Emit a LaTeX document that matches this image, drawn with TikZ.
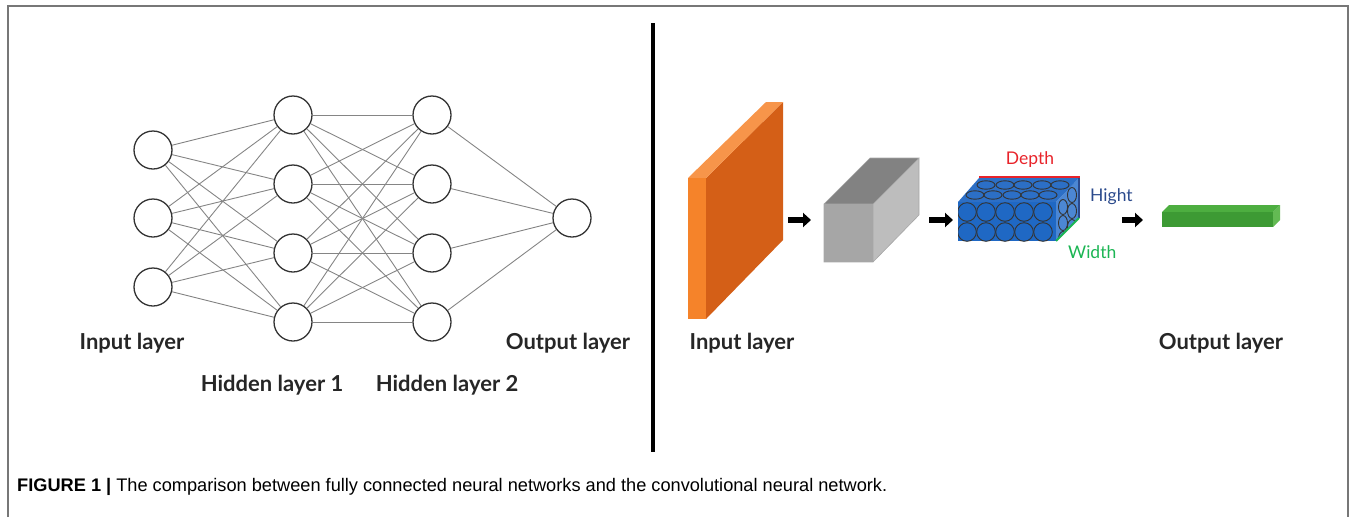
\documentclass[tikz,border=0pt]{standalone}
\usepackage{fontspec}
\setmainfont{Liberation Sans}
\newfontfamily\labfont{Lato}
\usetikzlibrary{arrows.meta}
\definecolor{framegray}{HTML}{777777}
\definecolor{edgegray}{HTML}{858585}
\definecolor{nodegray}{HTML}{333333}
\definecolor{orfront}{HTML}{F5832A}
\definecolor{ortop}{HTML}{F7954A}
\definecolor{orside}{HTML}{D45F17}
\definecolor{grfront}{HTML}{A6A6A6}
\definecolor{grtop}{HTML}{828282}
\definecolor{grside}{HTML}{BDBDBD}
\definecolor{blfront}{HTML}{1F68C4}
\definecolor{bltop}{HTML}{2C6FC6}
\definecolor{blside}{HTML}{4C87D3}
\definecolor{gnfront}{HTML}{3D9A34}
\definecolor{gntop}{HTML}{4DAE40}
\definecolor{gnside}{HTML}{63BA53}
\definecolor{depthred}{HTML}{E8232A}
\definecolor{hightblue}{HTML}{2B4A8C}
\definecolor{widthgreen}{HTML}{1BB553}
\begin{document}
\begin{tikzpicture}[x=1pt,y=-1pt,
  neuron/.style={circle,draw=nodegray,line width=1.3pt,fill=white,minimum size=38pt,inner sep=0pt},
  edge/.style={draw=edgegray,line width=0.9pt},
  lab/.style={font=\labfont\bfseries\fontsize{22}{26}\selectfont,text=black!85,inner sep=0pt},
  dimlab/.style={font=\labfont\fontsize{17.5}{20}\selectfont,inner sep=0pt},
  blkarrow/.style={line width=5.5pt,-{Triangle[length=8pt,width=14pt]}},
  cell/.style={draw=black!80,line width=0.9pt,fill=blfront}]
\useasboundingbox (0,0) rectangle (1356,517);
% frame
\draw[framegray,line width=1.5pt] (8,517) -- (8,6) -- (1348,6) -- (1348,517);
% divider
\draw[black,line width=4pt] (653,23) -- (653,452);

% ---------- fully connected network ----------
\foreach \i/\y in {1/150,2/218,3/287} \node[neuron] (i\i) at (153,\y) {};
\foreach \i/\y in {1/115,2/184,3/253,4/322} \node[neuron] (h\i) at (293,\y) {};
\foreach \i/\y in {1/115,2/184,3/253,4/322} \node[neuron] (g\i) at (432,\y) {};
\node[neuron] (o) at (572,218) {};
\foreach \a in {1,2,3} \foreach \b in {1,2,3,4} \draw[edge] (i\a) -- (h\b);
\foreach \a in {1,2,3,4} \foreach \b in {1,2,3,4} \draw[edge] (h\a) -- (g\b);
\foreach \a in {1,2,3,4} \draw[edge] (g\a) -- (o);
\node[lab] (tin) at (132,343) {Input layer};
\node[lab] (th1) at (272,385) {Hidden layer 1};
\node[lab] (th2) at (447,385) {Hidden layer 2};
\node[lab] (tout) at (568,343) {Output layer};

% ---------- CNN ----------
% orange slab
\fill[orside] (706,178) -- (783,102) -- (783,240) -- (706,319) -- cycle;
\fill[ortop] (688,178) -- (706,178) -- (783,102) -- (766,102) -- cycle;
\fill[orfront] (688,178) rectangle (706,319);
% arrow 1
\coordinate (a1s) at (788,220); \coordinate (a1e) at (811,220);
\draw[blkarrow] (a1s) -- (a1e);
% gray box
\fill[grside] (873,204) -- (919,158) -- (919,215) -- (873,262) -- cycle;
\fill[grtop] (824,204) -- (873,204) -- (919,158) -- (870,158) -- cycle;
\fill[grfront] (824,204) rectangle (873,262);
\draw[black!35,line width=0.6pt] (824,204) rectangle (873,262) (873,204) -- (919,158) -- (919,215) -- (873,262) (824,204) -- (870,158) -- (919,158);
% arrow 2
\coordinate (a2s) at (929,220); \coordinate (a2e) at (953,220);
\draw[blkarrow] (a2s) -- (a2e);
% blue box
\fill[blside] (1056,202) -- (1079,178) -- (1079,218) -- (1056,241) -- cycle;
\fill[bltop] (958,202) -- (1056,202) -- (1079,178) -- (979,178) -- cycle;
\fill[blfront] (958,202) rectangle (1056,241);
\begin{scope}
\clip (958,202) -- (1056,202) -- (1079,178) -- (979,178) -- cycle;
\foreach \x in {986,1005,1023,1042,1060} \draw[cell,fill=bltop] (\x,185) ellipse (9pt and 4.2pt);
\foreach \x in {975,993,1012,1030,1048} \draw[cell,fill=bltop] (\x,195) ellipse (9pt and 4.2pt);
\end{scope}
\begin{scope}
\clip (958,202) rectangle (1056,241);
\foreach \x in {967,986,1005,1024,1043} \foreach \y in {212,232} \draw[cell] (\x,\y) circle (9.3pt);
\end{scope}
\begin{scope}
\clip (1056,202) -- (1079,178) -- (1079,218) -- (1056,241) -- cycle;
\foreach \y in {207,223,239} \draw[cell,fill=blside] (1063,\y) ellipse (4.5pt and 7.5pt);
\foreach \y in {195,211,227} \draw[cell,fill=blside] (1072,\y) ellipse (4.5pt and 7.5pt);
\end{scope}
\draw[depthred,line width=2pt] (979,177) -- (1080,177);
\draw[hightblue,line width=2pt] (1079,178) -- (1079,218);
\draw[widthgreen,line width=2pt] (1056,241) -- (1079,218);
\node[dimlab,text=depthred] (tdepth) at (1030,160) {Depth};
\node[dimlab,text=hightblue,anchor=west] (thight) at (1090,197) {Hight};
\node[dimlab,text=widthgreen,anchor=west] (twidth) at (1068,252) {Width};
% arrow 3
\coordinate (a3s) at (1122,220); \coordinate (a3e) at (1143,220);
\draw[blkarrow] (a3s) -- (a3e);
% green bar
\fill[gnside] (1273,212) -- (1280,205) -- (1280,220) -- (1273,227) -- cycle;
\fill[gntop] (1162,212) -- (1273,212) -- (1280,205) -- (1169,205) -- cycle;
\fill[gnfront] (1162,212) rectangle (1273,227);
\node[lab] (cin) at (742,343) {Input layer};
\node[lab] (cout) at (1221,343) {Output layer};

% caption
\node[anchor=west,inner sep=0pt,font=\fontsize{18.2}{21}\selectfont] (cap) at (17,487) {\textbf{FIGURE 1 |} The comparison between fully connected neural networks and the convolutional neural network.};
\end{tikzpicture}
\end{document}
